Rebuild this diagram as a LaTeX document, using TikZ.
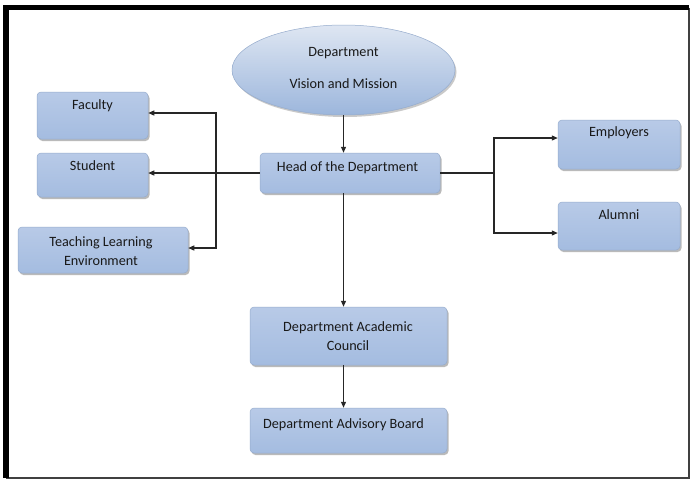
\documentclass[tikz,border=0pt]{standalone}
\usepackage{fontspec}
\setmainfont{Carlito}
\usetikzlibrary{shadows,arrows.meta,shapes.geometric}
\definecolor{boxline}{RGB}{150,172,205}
\definecolor{btop}{RGB}{184,202,231}
\definecolor{bmid}{RGB}{224,232,245}
\definecolor{bbot}{RGB}{164,188,224}
\definecolor{etop}{RGB}{222,230,242}
\definecolor{ebot}{RGB}{156,182,220}
\definecolor{txt}{RGB}{25,25,25}
\begin{document}
\begin{tikzpicture}[x=1pt,y=-1pt,
  box/.style={draw=boxline, line width=0.5pt, rounded corners=4pt,
    top color=btop, middle color=bmid, bottom color=bbot,
    drop shadow={shadow xshift=1.5pt,shadow yshift=-2pt,opacity=0.45,fill=black!60},
    inner sep=0pt},
  oval/.style={ellipse, draw=boxline, line width=0.5pt,
    top color=etop, bottom color=ebot,
    drop shadow={shadow xshift=1.5pt,shadow yshift=-2pt,opacity=0.35,fill=black!60},
    inner sep=0pt},
  lbl/.style={font=\fontsize{14.2}{19}\selectfont, text=txt, align=center, inner sep=0pt},
  arr/.style={line width=1.2pt, draw=black!85, -{Triangle[length=6pt,width=5pt]}},
  ln/.style={line width=1.2pt, draw=black!85}]
\useasboundingbox (0,0) rectangle (691,480);
\fill[white] (0,0) rectangle (691,480);
% frame
\draw[line width=1.5pt, black!75] (689,7.5) -- (689,478) -- (6,478);
\draw[line width=5.5pt, black] (6,478) -- (6,7.5) -- (689,7.5);
% nodes
\node[oval, minimum width=223pt, minimum height=90pt] (ell) at (343.5,70) {};
\node[lbl] (ellT) at (343.5,68) {Department\\[13pt]Vision and Mission};
\node[box, minimum width=180pt, minimum height=40pt] (head) at (350,173) {};
\node[lbl] (headT) at (347.5,168) {Head of the Department};
\node[box, minimum width=111pt, minimum height=47pt] (fac) at (92.5,115.5) {};
\node[lbl] (facT) at (92.5,106) {Faculty};
\node[box, minimum width=111pt, minimum height=44pt] (stu) at (92.5,175) {};
\node[lbl] (stuT) at (92.5,166) {Student};
\node[box, minimum width=170pt, minimum height=46pt] (tle) at (103,250) {};
\node[lbl] (tleT) at (101,251) {Teaching Learning\\Environment};
\node[box, minimum width=122pt, minimum height=49pt] (emp) at (619,144.5) {};
\node[lbl] (empT) at (619,133) {Employers};
\node[box, minimum width=122pt, minimum height=48pt] (alu) at (619,226) {};
\node[lbl] (aluT) at (619,215) {Alumni};
\node[box, minimum width=197pt, minimum height=58pt] (dac) at (348.5,336) {};
\node[lbl] (dacT) at (348,336.5) {Department Academic\\Council};
\node[box, minimum width=197pt, minimum height=45pt] (dab) at (348.5,430.5) {};
\node[lbl] (dabT) at (343.5,425) {Department Advisory Board};
% connectors
\draw[arr] (ell.south) -- (ell.south |- head.north);
\draw[arr] (head.west) -- (head.west -| stu.east);
\coordinate (lbus) at (216,173);
\draw[arr] (lbus) |- ([yshift=2.5pt]fac.east);
\draw[arr] (lbus) |- ([yshift=2pt]tle.east);
\coordinate (rbus) at (494,173);
\draw[ln] (head.east) -- (rbus);
\draw[arr] (rbus) |- ([yshift=6.5pt]emp.west);
\draw[arr] (rbus) |- ([yshift=-7pt]alu.west);
\draw[arr] (ell.south |- head.south) -- (ell.south |- dac.north);
\draw[arr] (ell.south |- dac.south) -- (ell.south |- dab.north);
\end{tikzpicture}
\end{document}
